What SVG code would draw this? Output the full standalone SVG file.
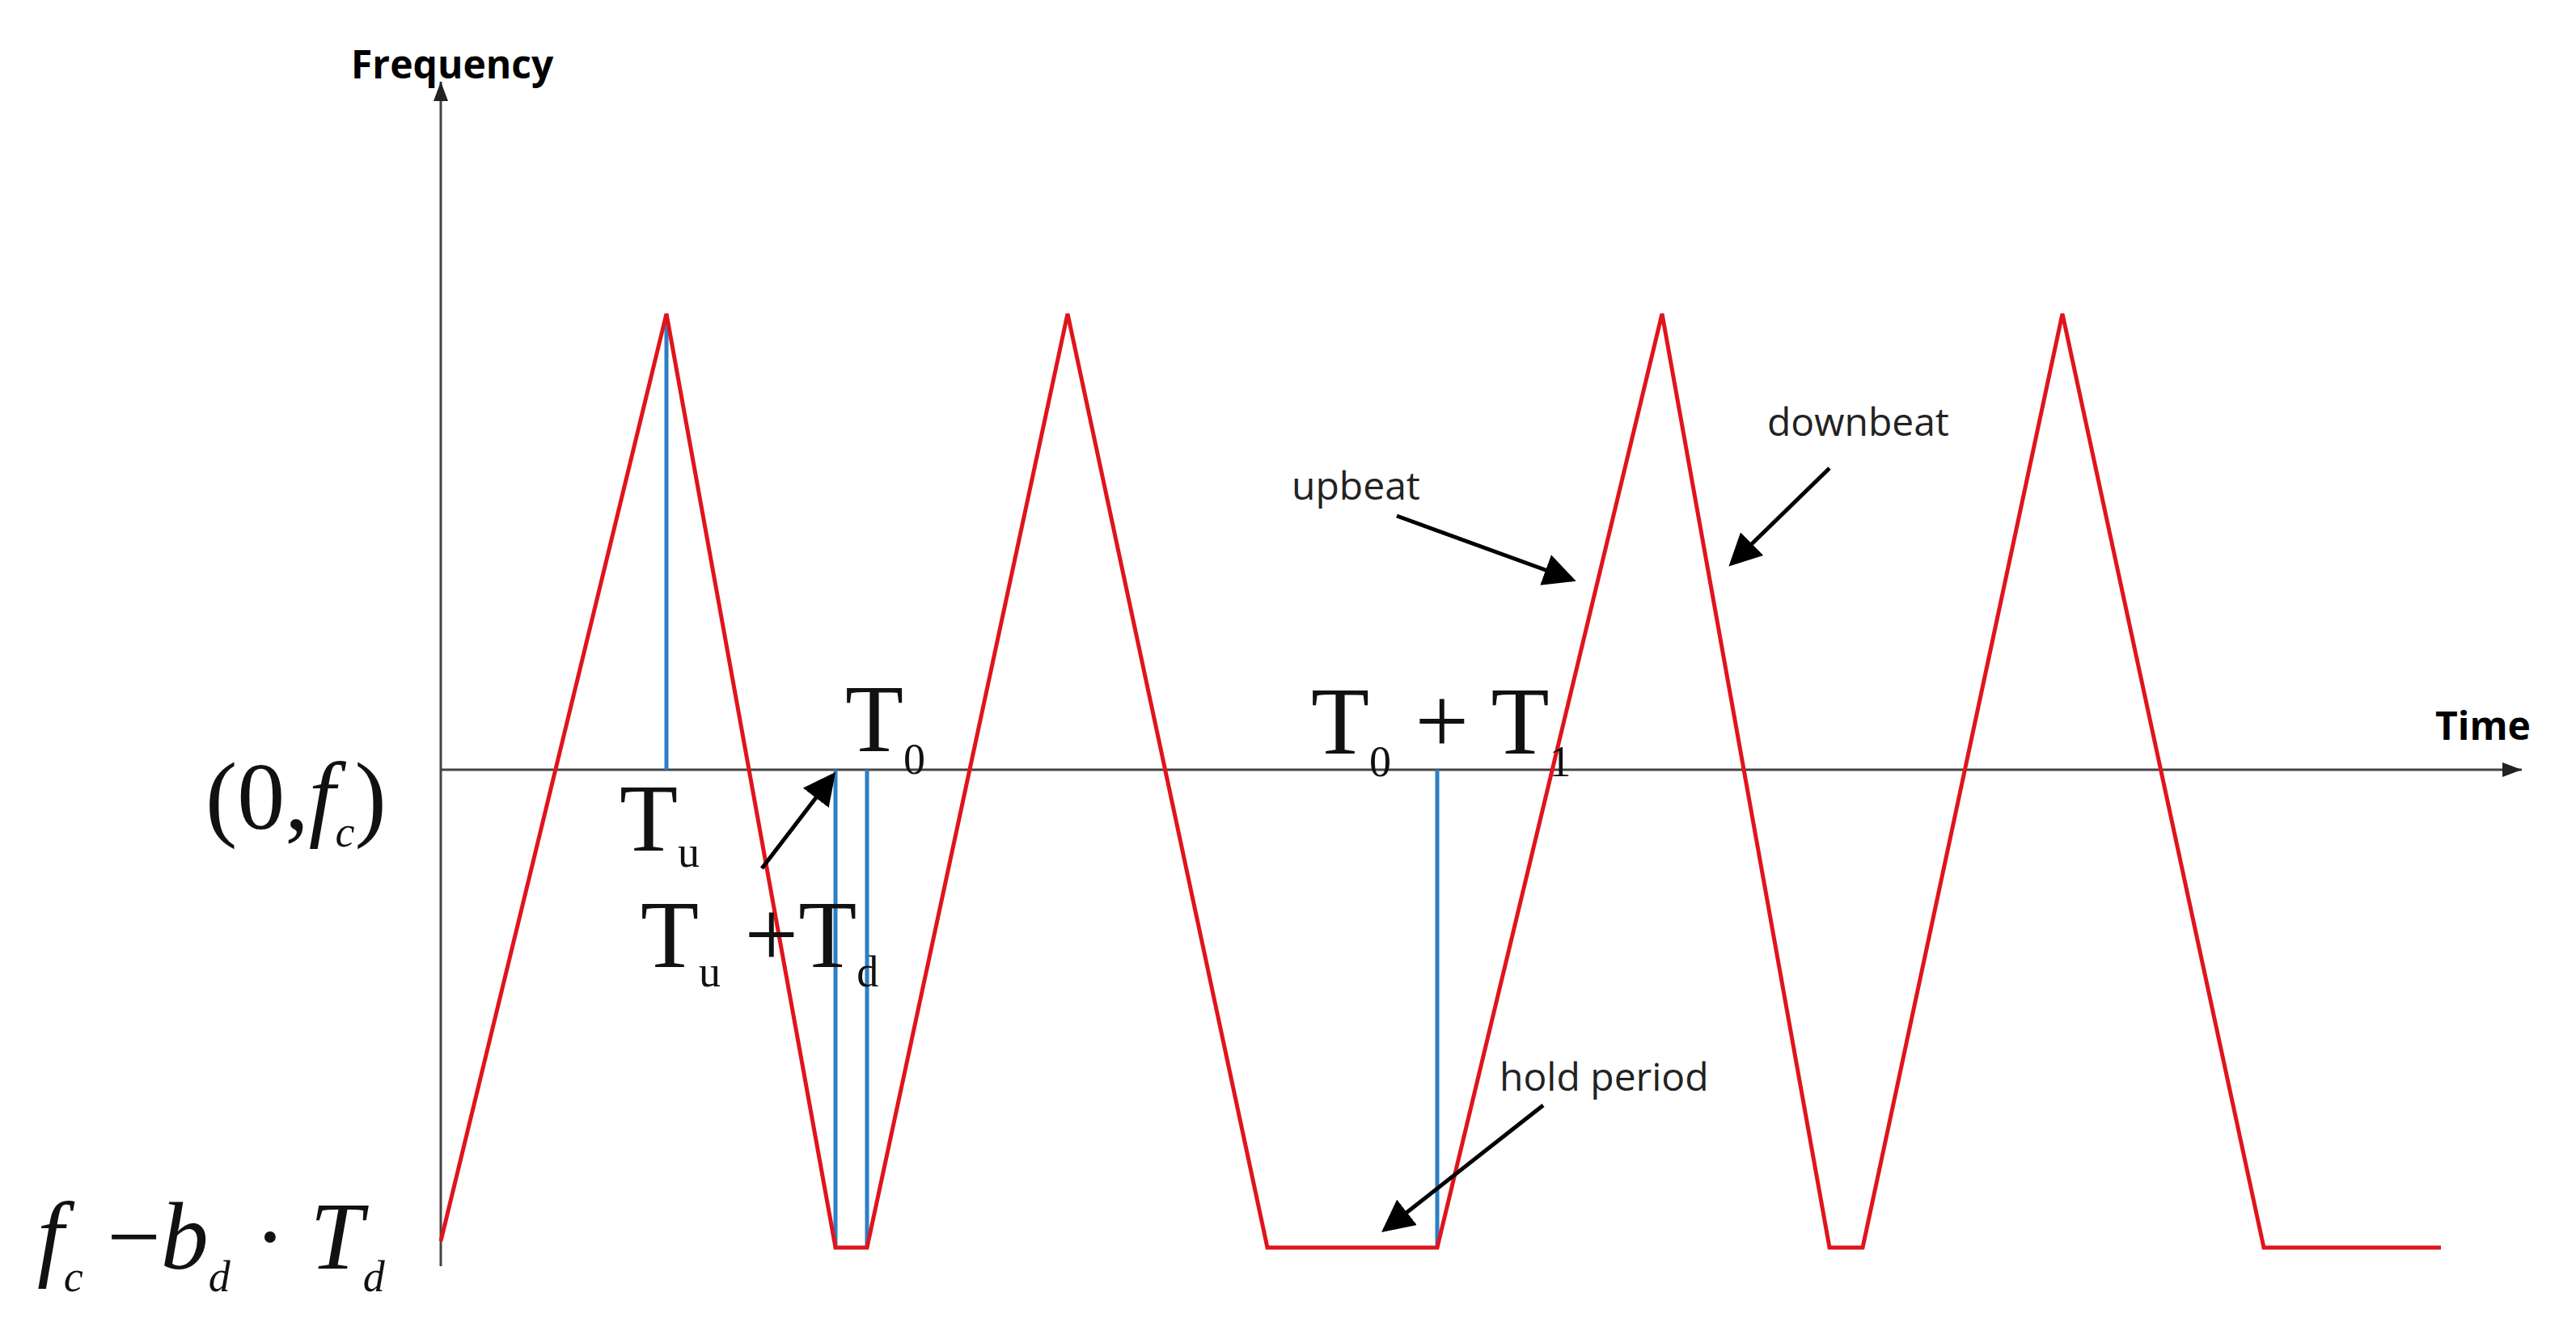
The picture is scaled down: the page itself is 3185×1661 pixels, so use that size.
<svg xmlns="http://www.w3.org/2000/svg" width="3185" height="1661" viewBox="0 0 3185 1661">
<style>
.axis{stroke:#444;stroke-width:3;fill:none}
.red{stroke:#e0141c;stroke-width:5;fill:none;stroke-linejoin:miter}
.blue{stroke:#2d7fc4;stroke-width:5}
.arr{stroke:#000;stroke-width:5}
.lab{font-family:"Open Sans","Liberation Sans",sans-serif;font-size:48px;fill:#222}
.b{font-weight:bold;fill:#000}
.m{font-family:"Liberation Serif",serif;font-size:118px;fill:#111}
.s{font-size:54px}
.i{font-style:italic}
</style>
<defs>
<marker id="ah" markerWidth="8" markerHeight="8" refX="7" refY="4" orient="auto" markerUnits="strokeWidth"><path d="M0,0 L8,4 L0,8 z" fill="#000"/></marker>
<marker id="ax" markerWidth="8" markerHeight="6" refX="8" refY="3" orient="auto" markerUnits="strokeWidth"><path d="M0,0 L8,3 L0,6 z" fill="#222"/></marker>
</defs>
<rect width="3185" height="1661" fill="#fff"/>
<g id="axes">
<line class="axis" x1="545" y1="1566" x2="545" y2="101" marker-end="url(#ax)"/>
<line class="axis" x1="545" y1="952" x2="3118" y2="952" marker-end="url(#ax)"/>
</g>
<g id="blue-lines">
<line class="blue" x1="824" y1="391" x2="824" y2="952"/>
<line class="blue" x1="1033" y1="952" x2="1033" y2="1543"/>
<line class="blue" x1="1072" y1="952" x2="1072" y2="1543"/>
<line class="blue" x1="1777" y1="952" x2="1777" y2="1543"/>
</g>
<g id="signal">
<polyline class="red" points="545,1535 824,388 1033,1543 1072,1543 1320,388 1567,1543 1777,1543 2055,388 2262,1543 2303,1543 2550,388 2799,1543 3018,1543"/>
</g>
<g id="connectors">
<line class="arr" x1="942" y1="1074" x2="1030" y2="959" marker-end="url(#ah)"/>
<line class="arr" x1="1727" y1="638" x2="1944" y2="717" marker-end="url(#ah)"/>
<line class="arr" x1="2262" y1="579" x2="2141" y2="697" marker-end="url(#ah)"/>
<line class="arr" x1="1908" y1="1367" x2="1712" y2="1521" marker-end="url(#ah)"/>
</g>
<g id="labels">
<text class="lab b" x="434" y="97">Frequency</text>
<text class="lab b" x="3011" y="915">Time</text>
<text class="lab" x="1597" y="618">upbeat</text>
<text class="lab" x="2185" y="539">downbeat</text>
<text class="lab" x="1854" y="1349">hold period</text>
<text class="m" x="254" y="1025">(0,<tspan class="i">f</tspan><tspan class="s i" dy="22">c</tspan><tspan dy="-22">)</tspan></text>
<text class="m" x="766" y="1052">T<tspan class="s" dy="20">u</tspan></text>
<text class="m" x="792" y="1196">T<tspan class="s" dy="24">u</tspan><tspan dy="-24"> +T</tspan><tspan class="s" dy="24">d</tspan></text>
<text class="m" x="1045" y="929">T<tspan class="s" dy="28">0</tspan></text>
<text class="m" x="1621" y="932">T<tspan class="s" dy="28">0</tspan><tspan dy="-28"> + T</tspan><tspan class="s" dy="28">1</tspan></text>
<text class="m i" x="46" y="1569">f<tspan class="s" dy="28">c</tspan><tspan dy="-28" font-style="normal"> −</tspan>b<tspan class="s" dy="28">d</tspan><tspan dy="-28" font-style="normal"> · </tspan>T<tspan class="s" dy="28">d</tspan></text>
</g>
</svg>
